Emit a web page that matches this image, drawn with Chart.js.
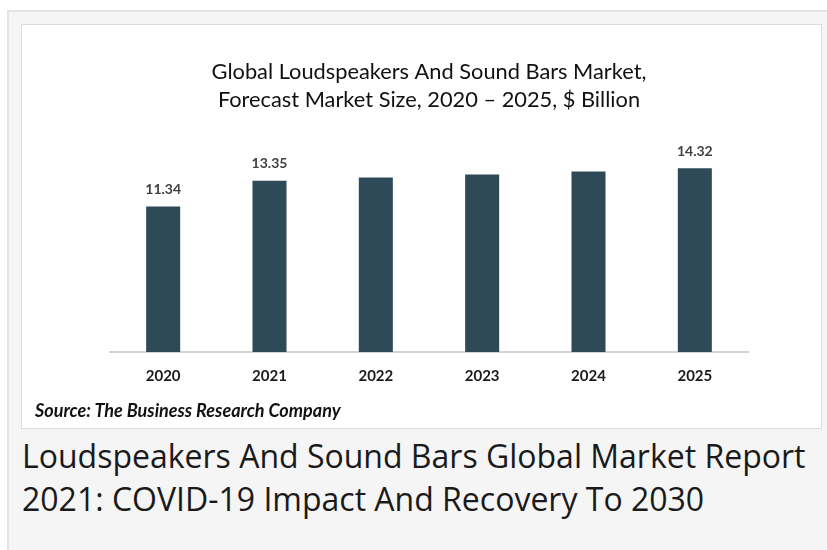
<!DOCTYPE html>
<html><head><meta charset="utf-8">
<script src="https://cdn.jsdelivr.net/npm/chart.js@4/dist/chart.umd.min.js"></script>
<style>
html,body{margin:0;padding:0;background:#fff;width:827px;height:550px;overflow:hidden;}
#outer{position:absolute;left:7px;top:10px;width:840px;height:600px;background:#f5f5f5;border:2px solid #e4e4e4;box-sizing:border-box;}
#inner{position:absolute;left:21px;top:24px;width:801px;height:405px;background:#fff;border:1px solid #dcdcdc;box-sizing:border-box;}
#wrap{position:absolute;left:22px;top:25px;width:799px;height:386px;}
#src{position:absolute;left:35px;top:399px;font-family:Lato,sans-serif;font-weight:bold;font-style:italic;font-size:18px;color:#111;}
#cap{position:absolute;left:22px;top:434px;font-family:"Open Sans",sans-serif;font-size:32px;line-height:43px;color:#1a1a1a;white-space:nowrap;}
</style></head><body>
<div id="outer"></div>
<div id="inner"></div>
<div id="wrap"><canvas id="c" width="799" height="386"></canvas></div>
<div id="src">Source: The Business Research Company</div>
<div id="cap">Loudspeakers And Sound Bars Global Market Report<br>2021: COVID-19 Impact And Recovery To 2030</div>
<script>
const years = ["2020","2021","2022","2023","2024","2025"];
const marketSize = [11.34, 13.35, 13.59, 13.83, 14.07, 14.32];
const labeledYears = ["2020","2021","2025"];
const titleLines = ["Global Loudspeakers And Sound Bars Market,", "Forecast Market Size, 2020 \u2013 2025, $ Billion"];

const valueLabels = {
  id: 'valueLabels',
  afterDatasetsDraw(chart) {
    const ctx = chart.ctx;
    const meta = chart.getDatasetMeta(0);
    ctx.save();
    ctx.font = 'bold 14px Lato, sans-serif';
    ctx.fillStyle = '#404040';
    ctx.textAlign = 'center';
    ctx.textBaseline = 'middle';
    meta.data.forEach((bar, i) => {
      if (!labeledYears.includes(years[i])) return;
      ctx.fillText(marketSize[i].toFixed(2), bar.x, bar.y - 17);
    });
    ctx.restore();
  }
};

new Chart(document.getElementById('c'), {
  type: 'bar',
  data: {
    labels: years,
    datasets: [{
      data: marketSize,
      backgroundColor: '#2e4a59',
      barPercentage: 0.32,
      categoryPercentage: 1.0
    }]
  },
  options: {
    responsive: false,
    animation: false,
    layout: { padding: { left: 88, right: 73, top: 0, bottom: 11 } },
    plugins: {
      legend: { display: false },
      tooltip: { enabled: false },
      title: {
        display: true,
        text: titleLines,
        font: { family: 'Lato, sans-serif', size: 21.8, weight: 'normal', lineHeight: 1.28 },
        color: '#111',
        padding: { top: 33, bottom: 20 }
      }
    },
    scales: {
      x: {
        grid: { display: false, drawTicks: false },
        border: { color: '#d4d4d4', width: 2 },
        ticks: { color: '#1a1a1a', font: { family: 'Lato, sans-serif', size: 15, weight: 'bold' }, padding: 15 }
      },
      y: { display: false, min: 0, max: 17 }
    }
  },
  plugins: [valueLabels]
});
</script>
</body></html>
